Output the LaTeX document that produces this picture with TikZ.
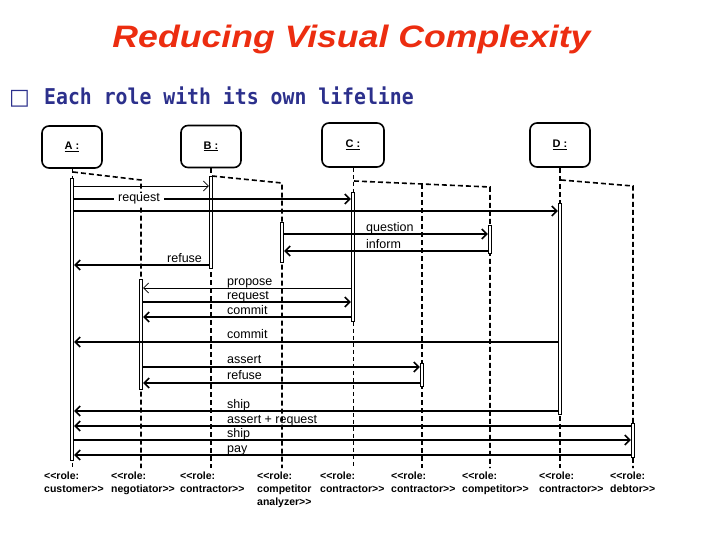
\documentclass[tikz,border=0pt]{standalone}
\usepackage{fontspec}
\setmainfont{Liberation Sans}
\newfontfamily\headfont{DejaVu Sans Mono}
\newfontfamily\boxfont{DejaVu Sans}
\usetikzlibrary{arrows.meta}
\definecolor{titlered}{RGB}{236,45,16}
\definecolor{bulletblue}{RGB}{44,48,140}

\tikzset{
  obj/.style={draw, line width=1.6pt, rounded corners=7pt, minimum width=60, minimum height=42,
    font=\bfseries\fontsize{11}{12}\selectfont},
  bar/.style={draw, fill=white, line width=0.7pt, inner sep=0pt, minimum width=3.5},
  life/.style={line width=1.6pt, dash pattern=on 5pt off 3pt},
  thinlife/.style={line width=0.7pt, dash pattern=on 4pt off 3pt},
  msg/.style={line width=1.6pt, -{Straight Barb[length=5pt,width=10pt]}},
  thinmsg/.style={line width=0.8pt, -{Straight Barb[length=5pt,width=10pt]}},
  lbl/.style={font=\fontsize{12.5}{14}\selectfont, inner sep=0pt, anchor=base west},
  role/.style={font=\bfseries\fontsize{10.5}{13}\selectfont, align=left, inner sep=0pt, anchor=north west}
}

\begin{document}
\begin{tikzpicture}[x=1pt, y=-1pt]
  \useasboundingbox (0,0) rectangle (720,540);

  % heading
  \node[font=\bfseries\itshape\fontsize{31}{36}\selectfont, text=titlered, anchor=base, xscale=1.15] (title) at (351.5,48) {Reducing Visual Complexity};
  \node[font=\boxfont\fontsize{22}{24}\selectfont, text=bulletblue, anchor=base west, inner sep=0pt] (bullet) at (9,105) {□};
  \node[font=\headfont\bfseries\fontsize{19.8}{22}\selectfont, text=bulletblue, anchor=base west, inner sep=0pt, yscale=1.1] (point) at (44,105) {Each role with its own lifeline};

  % objects
  \node[obj] (A) at (72,147) {\underline{A :}};
  \node[obj] (B) at (211,146.5) {\underline{B :}};
  \node[obj, minimum width=62, minimum height=44] (C) at (353,145) {\underline{C :}};
  \node[obj, minimum height=44] (D) at (560,145) {\underline{D :}};

  % lifelines
  \draw[thinlife] (A.south) -- (72,468);
  \draw[life] (73,172) -- (141,180) -- (141,468);
  \draw[life] (B.south) -- (211,468);
  \draw[life] (212,176) -- (282,183) -- (282,468);
  \draw[thinlife] (C.south) -- (353,468);
  \draw[life] (354,181) -- (490,187) -- (490,468);
  \draw[life] (422,184) -- (422,468);
  \draw[life] (D.south) -- (560,468);
  \draw[life] (561,180) -- (633,186) -- (633,468);

  % activations
  \node[bar, minimum height=282] (actA) at (72,319) {};
  \node[bar, minimum height=110] (actNeg) at (141,334) {};
  \node[bar, minimum height=92] (actB) at (211,222) {};
  \node[bar, minimum height=40] (actAna) at (282,242) {};
  \node[bar, minimum height=129] (actC) at (353,256.5) {};
  \node[bar, minimum height=23] (actCon) at (422,374.5) {};
  \node[bar, minimum height=28] (actComp) at (490,239) {};
  \node[bar, minimum height=211] (actD) at (560,308.5) {};
  \node[bar, minimum height=34] (actDeb) at (633,440) {};

  % messages
  \draw[thinmsg] (actA.east |- 0,186) -- (actB.west |- 0,186);
  \draw[msg] (actA.east |- 0,199) -- (actC.west |- 0,199);
  \node[lbl, fill=white, anchor=center, inner xsep=4pt, inner ysep=1pt] (m2) at (139,199) {request};
  \draw[msg] (actA.east |- 0,211) -- (actD.west |- 0,211);
  \draw[msg] (actAna.east |- 0,234) -- (actComp.west |- 0,234);
  \node[lbl] (m4) at (366,231) {question};
  \draw[msg] (actComp.west |- 0,251) -- (actAna.east |- 0,251);
  \node[lbl] (m5) at (366,248) {inform};
  \draw[msg] (actB.west |- 0,265) -- (actA.east |- 0,265);
  \node[lbl] (m6) at (167,262) {refuse};
  \draw[thinmsg] (actC.west |- 0,288) -- (actNeg.east |- 0,288);
  \node[lbl] (m7) at (227,285) {propose};
  \draw[msg] (actNeg.east |- 0,302) -- (actC.west |- 0,302);
  \node[lbl] (m8) at (227,299) {request};
  \draw[msg] (actC.west |- 0,317) -- (actNeg.east |- 0,317);
  \node[lbl] (m9) at (227,314) {commit};
  \draw[msg] (actD.west |- 0,342) -- (actA.east |- 0,342);
  \node[lbl] (m10) at (227,338) {commit};
  \draw[msg] (actNeg.east |- 0,367) -- (actCon.west |- 0,367);
  \node[lbl] (m11) at (227,363) {assert};
  \draw[msg] (actCon.west |- 0,383) -- (actNeg.east |- 0,383);
  \node[lbl] (m12) at (227,379) {refuse};
  \draw[msg] (actD.west |- 0,411) -- (actA.east |- 0,411);
  \node[lbl] (m13) at (227,408) {ship};
  \draw[msg] (actDeb.west |- 0,426) -- (actA.east |- 0,426);
  \node[lbl] (m14) at (227,423) {assert + request};
  \draw[msg] (actA.east |- 0,440) -- (actDeb.west |- 0,440);
  \node[lbl] (m15) at (227,437) {ship};
  \draw[msg] (actDeb.west |- 0,455) -- (actA.east |- 0,455);
  \node[lbl] (m16) at (227,452) {pay};

  % roles
  \node[role] (r1) at (44,472) {<{}<role:\\customer>{}>};
  \node[role] (r2) at (111,472) {<{}<role:\\negotiator>{}>};
  \node[role] (r3) at (180,472) {<{}<role:\\contractor>{}>};
  \node[role] (r4) at (257,472) {<{}<role:\\competitor\\analyzer>{}>};
  \node[role] (r5) at (320,472) {<{}<role:\\contractor>{}>};
  \node[role] (r6) at (391,472) {<{}<role:\\contractor>{}>};
  \node[role] (r7) at (462,472) {<{}<role:\\competitor>{}>};
  \node[role] (r8) at (539,472) {<{}<role:\\contractor>{}>};
  \node[role] (r9) at (610,472) {<{}<role:\\debtor>{}>};
\end{tikzpicture}
\end{document}
